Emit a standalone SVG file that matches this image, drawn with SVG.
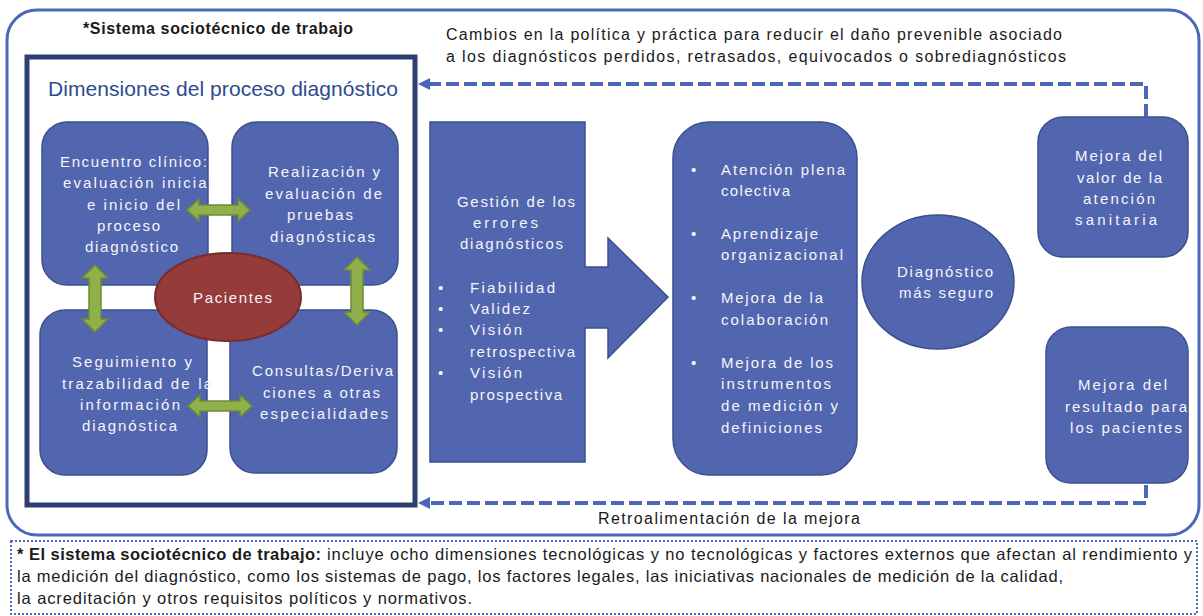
<svg xmlns="http://www.w3.org/2000/svg" width="1203" height="616" viewBox="0 0 1203 616">
<defs>
<style>
.box{fill:#5166ae;stroke:#3c4f8d;stroke-width:1.5}
.bt{font-family:"Liberation Sans",Arial,sans-serif;font-size:15px;fill:#f5f5fa}
.blk{font-family:"Liberation Sans",Arial,sans-serif;fill:#1a1a1a}
.green{fill:#8fb04a;stroke:#6d8a34;stroke-width:1.5}
.dash{fill:none;stroke:#4a66b8;stroke-width:4;stroke-dasharray:13 5}
</style>
<marker id="ah" viewBox="0 0 12 12" refX="0" refY="6" markerWidth="12" markerHeight="12" markerUnits="userSpaceOnUse" orient="auto">
<path d="M0,0 L12,6 L0,12 Z" fill="#4a66b8"/>
</marker>
</defs>
<rect width="1203" height="616" fill="#ffffff"/>

<g id="outer-system">
<rect x="7" y="10" width="1192" height="525" rx="30" fill="none" stroke="#4a68b8" stroke-width="3"/>
<text class="blk" x="83" y="34" font-size="16" font-weight="bold" textLength="270">*Sistema sociotécnico de trabajo</text>
</g>

<g id="dimensiones">
<rect x="27" y="57" width="388" height="448" fill="none" stroke="#2e3f72" stroke-width="5"/>
<text x="48" y="96" font-family="Liberation Sans, Arial, sans-serif" font-size="21" fill="#2d4b8e" textLength="350">Dimensiones del proceso diagnóstico</text>
</g>

<g id="encuentro">
<rect class="box" x="42" y="122" width="166" height="163" rx="25"/>
<text class="bt" x="60" y="167" textLength="147">Encuentro clínico:</text>
<text class="bt" x="63" y="188" textLength="149">evaluación inicial</text>
<text class="bt" x="87" y="210" textLength="93">e inicio del</text>
<text class="bt" x="97" y="231" textLength="63">proceso</text>
<text class="bt" x="85" y="252" textLength="93">diagnóstico</text>
</g>

<g id="realizacion">
<rect class="box" x="232" y="122" width="166" height="163" rx="25"/>
<text class="bt" x="268" y="177" textLength="112">Realización y</text>
<text class="bt" x="265" y="199" textLength="117">evaluación de</text>
<text class="bt" x="287" y="220" textLength="66">pruebas</text>
<text class="bt" x="270" y="242" textLength="105">diagnósticas</text>
</g>

<g id="seguimiento">
<rect class="box" x="40" y="310" width="167" height="165" rx="25"/>
<text class="bt" x="72" y="367" textLength="120">Seguimiento y</text>
<text class="bt" x="62" y="389" textLength="150">trazabilidad de la</text>
<text class="bt" x="80" y="410" textLength="100">información</text>
<text class="bt" x="82" y="431" textLength="95">diagnóstica</text>
</g>

<g id="consultas">
<rect class="box" x="230" y="310" width="167" height="163" rx="25"/>
<text class="bt" x="252" y="376" textLength="141">Consultas/Deriva</text>
<text class="bt" x="263" y="398" textLength="117">ciones a otras</text>
<text class="bt" x="260" y="419" textLength="128">especialidades</text>
</g>

<g id="flechas-verdes">
<path class="green" d="M187,210 L199,199 L199,205 L238,205 L238,199 L250,210 L238,221 L238,215 L199,215 L199,221 Z"/>
<path class="green" d="M188,406 L200,395 L200,401 L240,401 L240,395 L252,406 L240,417 L240,411 L200,411 L200,417 Z"/>
<path class="green" d="M95,265 L108,278 L101,278 L101,319 L108,319 L95,332 L82,319 L89,319 L89,278 L82,278 Z"/>
<path class="green" d="M357,257 L370,270 L363,270 L363,312 L370,312 L357,325 L344,312 L351,312 L351,270 L344,270 Z"/>
</g>

<g id="pacientes">
<ellipse cx="228" cy="297" rx="73" ry="44" fill="#953b39" stroke="#7a2b2a" stroke-width="2"/>
<text class="bt" x="193" y="303" textLength="79">Pacientes</text>
</g>

<g id="gestion">
<path class="box" d="M430,122 L585,122 L585,267 L608,267 L608,238 L668,297 L608,358 L608,328 L585,328 L585,462 L430,462 Z"/>
<text class="bt" x="457" y="207" textLength="118">Gestión de los</text>
<text class="bt" x="473" y="228" textLength="65">errores</text>
<text class="bt" x="460" y="249" textLength="103">diagnósticos</text>
<text class="bt" x="438" y="293">•</text>
<text class="bt" x="470" y="293" textLength="85">Fiabilidad</text>
<text class="bt" x="438" y="314">•</text>
<text class="bt" x="470" y="314" textLength="60">Validez</text>
<text class="bt" x="438" y="335">•</text>
<text class="bt" x="470" y="335" textLength="52">Visión</text>
<text class="bt" x="470" y="357" textLength="105">retrospectiva</text>
<text class="bt" x="438" y="378">•</text>
<text class="bt" x="470" y="378" textLength="52">Visión</text>
<text class="bt" x="470" y="400" textLength="92">prospectiva</text>
</g>

<g id="mejoras">
<rect class="box" x="673" y="122" width="184" height="353" rx="36"/>
<text class="bt" x="691" y="175">•</text>
<text class="bt" x="721" y="175" textLength="124">Atención plena</text>
<text class="bt" x="721" y="196" textLength="69">colectiva</text>
<text class="bt" x="691" y="239">•</text>
<text class="bt" x="721" y="239" textLength="97">Aprendizaje</text>
<text class="bt" x="721" y="260" textLength="122">organizacional</text>
<text class="bt" x="691" y="303">•</text>
<text class="bt" x="721" y="303" textLength="102">Mejora de la</text>
<text class="bt" x="721" y="325" textLength="107">colaboración</text>
<text class="bt" x="691" y="368">•</text>
<text class="bt" x="721" y="368" textLength="112">Mejora de los</text>
<text class="bt" x="721" y="389" textLength="110">instrumentos</text>
<text class="bt" x="721" y="411" textLength="117">de medición y</text>
<text class="bt" x="721" y="433" textLength="101">definiciones</text>
</g>

<g id="diagnostico-seguro">
<ellipse class="box" cx="938" cy="282" rx="76" ry="67"/>
<text class="bt" x="897" y="277" textLength="96">Diagnóstico</text>
<text class="bt" x="899" y="298" textLength="94">más seguro</text>
</g>

<g id="valor-atencion">
<rect class="box" x="1038" y="117" width="150" height="140" rx="25"/>
<text class="bt" x="1075" y="161" textLength="87">Mejora del</text>
<text class="bt" x="1077" y="183" textLength="85">valor de la</text>
<text class="bt" x="1083" y="204" textLength="72">atención</text>
<text class="bt" x="1075" y="225" textLength="82">sanitaria</text>
</g>

<g id="resultado-pacientes">
<rect class="box" x="1046" y="327" width="142" height="156" rx="25"/>
<text class="bt" x="1078" y="390" textLength="89">Mejora del</text>
<text class="bt" x="1065" y="412" textLength="122">resultado para</text>
<text class="bt" x="1070" y="433" textLength="112">los pacientes</text>
</g>

<g id="connectors">
<path class="dash" d="M1146,117 V84 H430" marker-end="url(#ah)"/>
<path class="dash" d="M1146,485 V503 H430" marker-end="url(#ah)"/>
<text class="blk" x="446" y="40" font-size="16" textLength="616">Cambios en la política y práctica para reducir el daño prevenible asociado</text>
<text class="blk" x="446" y="62" font-size="16" textLength="620">a los diagnósticos perdidos, retrasados, equivocados o sobrediagnósticos</text>
<text class="blk" x="598" y="524" font-size="16" textLength="262">Retroalimentación de la mejora</text>
</g>

<g id="nota">
<rect x="11" y="541" width="1186" height="73" fill="none" stroke="#4a68b8" stroke-width="2" stroke-dasharray="2 2"/>
<text class="blk" x="17" y="560" font-size="16.5" font-weight="bold" textLength="304">* El sistema sociotécnico de trabajo:</text>
<text class="blk" x="327" y="560" font-size="16.5" textLength="865">incluye ocho dimensiones tecnológicas y no tecnológicas y factores externos que afectan al rendimiento y</text>
<text class="blk" x="17" y="582" font-size="16.5" textLength="1046">la medición del diagnóstico, como los sistemas de pago, los factores legales, las iniciativas nacionales de medición de la calidad,</text>
<text class="blk" x="17" y="604" font-size="16.5" textLength="455">la acreditación y otros requisitos políticos y normativos.</text>
</g>
</svg>
